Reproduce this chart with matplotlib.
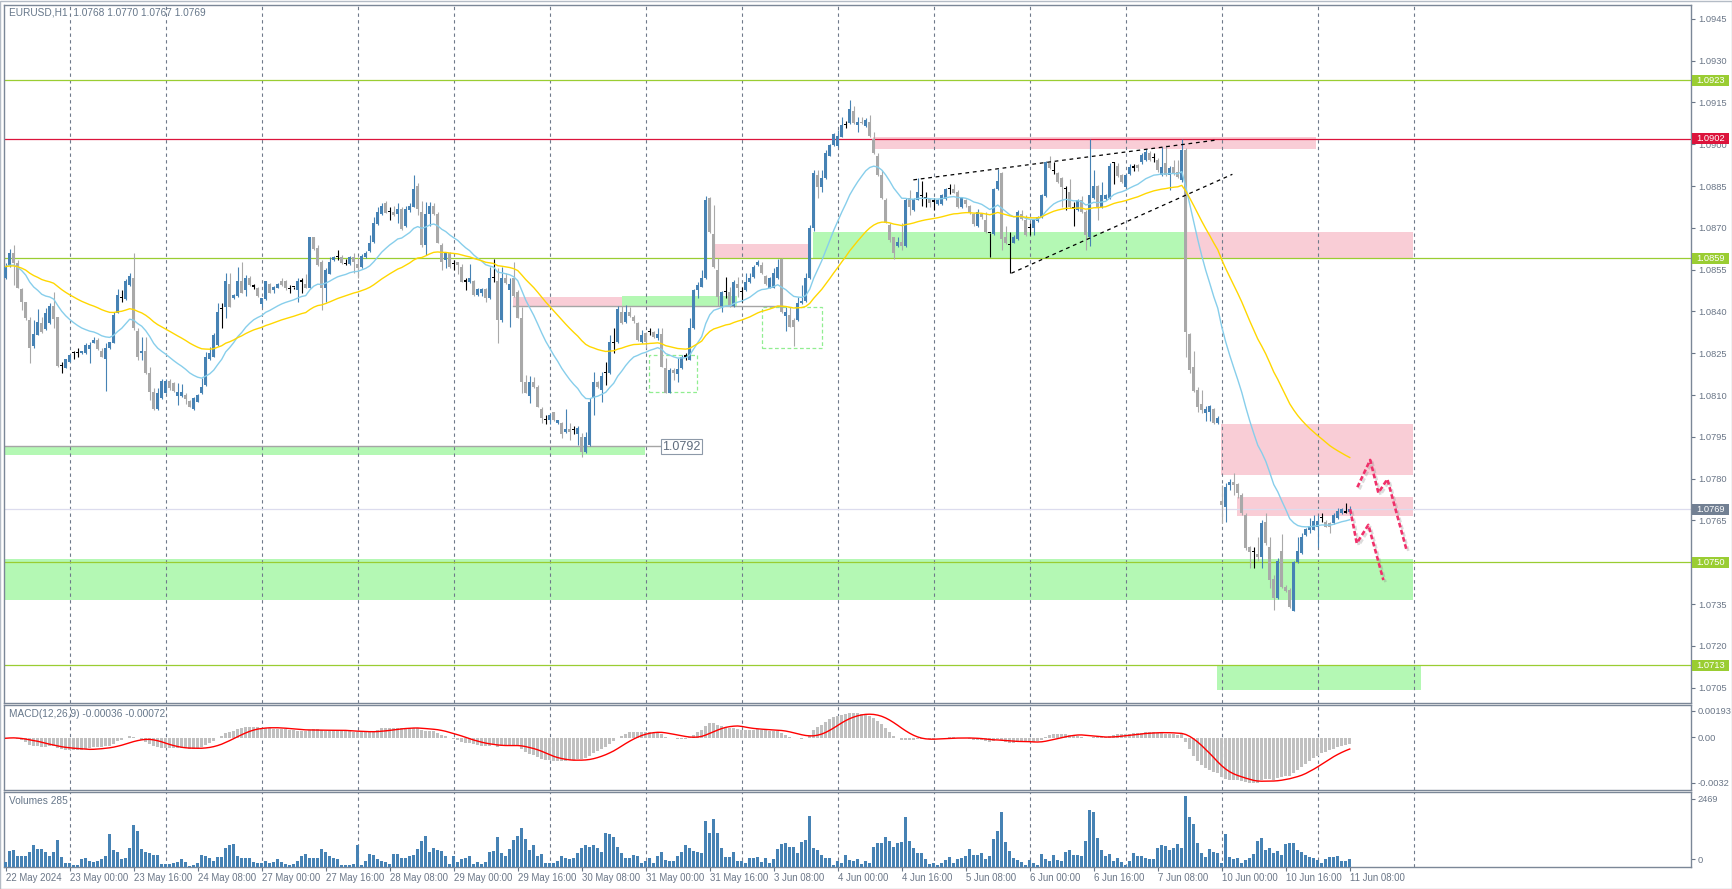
import numpy as np
import pandas as pd
import matplotlib
matplotlib.use('Agg')
import matplotlib.pyplot as plt
import matplotlib.patheffects as pe
from matplotlib.patches import Rectangle
from matplotlib.transforms import blended_transform_factory

plt.rcParams['font.family'] = ['Liberation Sans', 'DejaVu Sans']

# ---------------- data (EURUSD H1) ----------------
# (open, high, low, close) per hourly bar, first bar = 22 May 2024 08:00
candles = [
    (1.08519, 1.08573, 1.08515, 1.08561),  # 0
    (1.08567, 1.08623, 1.08561, 1.08608),
    (1.08608, 1.08638, 1.08495, 1.08573),
    (1.08573, 1.08585, 1.08483, 1.08483),
    (1.08479, 1.08483, 1.08405, 1.08435),
    (1.08435, 1.08435, 1.08369, 1.08378),
    (1.08369, 1.08381, 1.08216, 1.08268),
    (1.08276, 1.08369, 1.08268, 1.08318),
    (1.08315, 1.08407, 1.08315, 1.08363),
    (1.08357, 1.08381, 1.08321, 1.08327),
    (1.08336, 1.08411, 1.08333, 1.08393),  # 10
    (1.08357, 1.08429, 1.08355, 1.08420),
    (1.08420, 1.08471, 1.08339, 1.08372),
    (1.08381, 1.08381, 1.08202, 1.08205),
    (1.08205, 1.08220, 1.08178, 1.08205),
    (1.08198, 1.08228, 1.08196, 1.08228),
    (1.08220, 1.08244, 1.08220, 1.08244),
    (1.08250, 1.08259, 1.08228, 1.08250),
    (1.08252, 1.08268, 1.08238, 1.08252),
    (1.08250, 1.08258, 1.08248, 1.08258),
    (1.08250, 1.08285, 1.08248, 1.08278),  # 20
    (1.08266, 1.08291, 1.08216, 1.08278),
    (1.08288, 1.08307, 1.08285, 1.08297),
    (1.08297, 1.08303, 1.08262, 1.08266),
    (1.08258, 1.08268, 1.08236, 1.08238),
    (1.08228, 1.08285, 1.08116, 1.08270),
    (1.08268, 1.08290, 1.08264, 1.08290),
    (1.08288, 1.08399, 1.08285, 1.08387),
    (1.08396, 1.08480, 1.08393, 1.08459),
    (1.08447, 1.08477, 1.08435, 1.08447),
    (1.08445, 1.08515, 1.08441, 1.08509),  # 30
    (1.08495, 1.08539, 1.08491, 1.08527),
    (1.08519, 1.08611, 1.08333, 1.08339),
    (1.08330, 1.08339, 1.08226, 1.08238),
    (1.08250, 1.08307, 1.08226, 1.08258),
    (1.08258, 1.08309, 1.08175, 1.08178),
    (1.08178, 1.08202, 1.08082, 1.08112),
    (1.08112, 1.08124, 1.08046, 1.08049),
    (1.08049, 1.08124, 1.08046, 1.08106),
    (1.08088, 1.08156, 1.08086, 1.08149),
    (1.08108, 1.08156, 1.08106, 1.08149),  # 40
    (1.08149, 1.08156, 1.08118, 1.08124),
    (1.08142, 1.08148, 1.08112, 1.08114),
    (1.08098, 1.08142, 1.08064, 1.08112),
    (1.08097, 1.08138, 1.08094, 1.08112),
    (1.08100, 1.08106, 1.08068, 1.08086),
    (1.08079, 1.08082, 1.08056, 1.08058),
    (1.08049, 1.08094, 1.08046, 1.08088),
    (1.08076, 1.08104, 1.08074, 1.08100),
    (1.08106, 1.08162, 1.08104, 1.08130),
    (1.08136, 1.08256, 1.08134, 1.08238),  # 50
    (1.08228, 1.08274, 1.08226, 1.08252),
    (1.08238, 1.08321, 1.08236, 1.08315),
    (1.08279, 1.08429, 1.08276, 1.08399),
    (1.08407, 1.08429, 1.08339, 1.08407),
    (1.08417, 1.08537, 1.08378, 1.08509),
    (1.08497, 1.08537, 1.08415, 1.08417),
    (1.08447, 1.08462, 1.08444, 1.08459),
    (1.08456, 1.08560, 1.08453, 1.08509),
    (1.08509, 1.08576, 1.08465, 1.08467),
    (1.08477, 1.08531, 1.08456, 1.08521),  # 60
    (1.08521, 1.08527, 1.08491, 1.08495),
    (1.08489, 1.08498, 1.08479, 1.08489),
    (1.08483, 1.08489, 1.08453, 1.08456),
    (1.08426, 1.08449, 1.08417, 1.08449),
    (1.08444, 1.08509, 1.08441, 1.08509),
    (1.08498, 1.08501, 1.08465, 1.08467),
    (1.08477, 1.08491, 1.08467, 1.08488),
    (1.08485, 1.08503, 1.08483, 1.08498),
    (1.08509, 1.08521, 1.08492, 1.08495),
    (1.08509, 1.08513, 1.08477, 1.08485),  # 70
    (1.08479, 1.08495, 1.08467, 1.08479),
    (1.08486, 1.08489, 1.08479, 1.08486),
    (1.08477, 1.08521, 1.08435, 1.08509),
    (1.08507, 1.08519, 1.08467, 1.08507),
    (1.08498, 1.08536, 1.08483, 1.08485),
    (1.08485, 1.08666, 1.08483, 1.08666),
    (1.08666, 1.08666, 1.08620, 1.08624),
    (1.08629, 1.08638, 1.08563, 1.08566),
    (1.08578, 1.08584, 1.08405, 1.08485),
    (1.08485, 1.08554, 1.08435, 1.08548),  # 80
    (1.08536, 1.08596, 1.08534, 1.08576),
    (1.08584, 1.08600, 1.08582, 1.08596),
    (1.08594, 1.08620, 1.08584, 1.08594),
    (1.08594, 1.08602, 1.08569, 1.08572),
    (1.08570, 1.08587, 1.08566, 1.08570),
    (1.08569, 1.08599, 1.08566, 1.08596),
    (1.08596, 1.08608, 1.08539, 1.08576),
    (1.08569, 1.08596, 1.08519, 1.08557),
    (1.08558, 1.08606, 1.08554, 1.08599),
    (1.08594, 1.08617, 1.08590, 1.08608),  # 90
    (1.08618, 1.08674, 1.08614, 1.08647),
    (1.08650, 1.08740, 1.08647, 1.08716),
    (1.08713, 1.08773, 1.08710, 1.08758),
    (1.08748, 1.08790, 1.08746, 1.08778),
    (1.08788, 1.08797, 1.08752, 1.08754),
    (1.08758, 1.08776, 1.08728, 1.08758),
    (1.08758, 1.08778, 1.08742, 1.08746),
    (1.08748, 1.08788, 1.08716, 1.08766),
    (1.08766, 1.08776, 1.08692, 1.08696),
    (1.08708, 1.08778, 1.08704, 1.08766),  # 100
    (1.08764, 1.08788, 1.08755, 1.08778),
    (1.08776, 1.08889, 1.08773, 1.08838),
    (1.08851, 1.08859, 1.08746, 1.08766),
    (1.08755, 1.08797, 1.08632, 1.08638),
    (1.08638, 1.08794, 1.08602, 1.08749),
    (1.08749, 1.08794, 1.08706, 1.08778),
    (1.08778, 1.08788, 1.08746, 1.08748),
    (1.08748, 1.08758, 1.08644, 1.08647),
    (1.08638, 1.08644, 1.08548, 1.08576),
    (1.08584, 1.08608, 1.08554, 1.08608),  # 110
    (1.08608, 1.08614, 1.08554, 1.08558),
    (1.08569, 1.08584, 1.08548, 1.08569),
    (1.08576, 1.08579, 1.08536, 1.08566),
    (1.08561, 1.08569, 1.08504, 1.08507),
    (1.08507, 1.08519, 1.08477, 1.08507),
    (1.08507, 1.08569, 1.08501, 1.08519),
    (1.08509, 1.08513, 1.08455, 1.08459),
    (1.08459, 1.08483, 1.08455, 1.08479),
    (1.08465, 1.08483, 1.08455, 1.08479),
    (1.08479, 1.08483, 1.08435, 1.08447),  # 120
    (1.08447, 1.08561, 1.08444, 1.08519),
    (1.08519, 1.08587, 1.08507, 1.08519),
    (1.08509, 1.08557, 1.08288, 1.08369),
    (1.08369, 1.08561, 1.08363, 1.08519),
    (1.08519, 1.08537, 1.08498, 1.08501),
    (1.08477, 1.08519, 1.08345, 1.08498),
    (1.08519, 1.08579, 1.08452, 1.08455),
    (1.08471, 1.08477, 1.08375, 1.08378),
    (1.08378, 1.08417, 1.08106, 1.08148),
    (1.08148, 1.08172, 1.08106, 1.08108),  # 130
    (1.08098, 1.08168, 1.08070, 1.08148),
    (1.08148, 1.08166, 1.08124, 1.08130),
    (1.08130, 1.08136, 1.08056, 1.08058),
    (1.08049, 1.08056, 1.07998, 1.08016),
    (1.08010, 1.08028, 1.07996, 1.08010),
    (1.08010, 1.08034, 1.07996, 1.08028),
    (1.08038, 1.08040, 1.08006, 1.08010),
    (1.07998, 1.08012, 1.07996, 1.08010),
    (1.07998, 1.08004, 1.07945, 1.07959),
    (1.07969, 1.08049, 1.07963, 1.07977),  # 140
    (1.07977, 1.07998, 1.07939, 1.07969),
    (1.07975, 1.07989, 1.07959, 1.07975),
    (1.07959, 1.07987, 1.07921, 1.07983),
    (1.07948, 1.07963, 1.07876, 1.07897),
    (1.07897, 1.07969, 1.07893, 1.07951),
    (1.07921, 1.08088, 1.07918, 1.08076),
    (1.08088, 1.08184, 1.08028, 1.08148),
    (1.08148, 1.08150, 1.08124, 1.08128),
    (1.08118, 1.08184, 1.08076, 1.08168),
    (1.08178, 1.08220, 1.08136, 1.08178),  # 150
    (1.08178, 1.08315, 1.08175, 1.08291),
    (1.08288, 1.08339, 1.08250, 1.08288),
    (1.08291, 1.08419, 1.08288, 1.08407),
    (1.08398, 1.08419, 1.08355, 1.08357),
    (1.08363, 1.08423, 1.08360, 1.08399),
    (1.08399, 1.08417, 1.08381, 1.08384),
    (1.08381, 1.08387, 1.08357, 1.08366),
    (1.08357, 1.08363, 1.08295, 1.08297),
    (1.08291, 1.08333, 1.08288, 1.08315),
    (1.08321, 1.08327, 1.08268, 1.08291),  # 160
    (1.08327, 1.08339, 1.08315, 1.08327),
    (1.08327, 1.08329, 1.08304, 1.08307),
    (1.08306, 1.08339, 1.08297, 1.08319),
    (1.08319, 1.08339, 1.08200, 1.08202),
    (1.08196, 1.08232, 1.08106, 1.08108),
    (1.08108, 1.08196, 1.08106, 1.08190),
    (1.08190, 1.08196, 1.08154, 1.08178),
    (1.08175, 1.08232, 1.08148, 1.08192),
    (1.08196, 1.08244, 1.08192, 1.08238),
    (1.08238, 1.08250, 1.08226, 1.08238),  # 170
    (1.08226, 1.08375, 1.08224, 1.08339),
    (1.08339, 1.08479, 1.08336, 1.08477),
    (1.08477, 1.08507, 1.08447, 1.08495),
    (1.08489, 1.08549, 1.08487, 1.08519),
    (1.08519, 1.08814, 1.08516, 1.08800),
    (1.08806, 1.08812, 1.08683, 1.08686),
    (1.08678, 1.08782, 1.08555, 1.08558),
    (1.08549, 1.08590, 1.08419, 1.08453),
    (1.08419, 1.08473, 1.08399, 1.08471),
    (1.08468, 1.08525, 1.08447, 1.08468),  # 180
    (1.08471, 1.08489, 1.08417, 1.08419),
    (1.08419, 1.08513, 1.08417, 1.08507),
    (1.08497, 1.08525, 1.08453, 1.08485),
    (1.08471, 1.08489, 1.08435, 1.08471),
    (1.08477, 1.08537, 1.08474, 1.08507),
    (1.08507, 1.08539, 1.08501, 1.08519),
    (1.08522, 1.08567, 1.08519, 1.08561),
    (1.08567, 1.08585, 1.08564, 1.08576),
    (1.08567, 1.08576, 1.08535, 1.08537),
    (1.08527, 1.08531, 1.08495, 1.08497),  # 190
    (1.08485, 1.08522, 1.08483, 1.08519),
    (1.08485, 1.08554, 1.08483, 1.08537),
    (1.08519, 1.08587, 1.08516, 1.08561),
    (1.08587, 1.08590, 1.08394, 1.08397),
    (1.08384, 1.08417, 1.08331, 1.08399),
    (1.08387, 1.08417, 1.08343, 1.08345),
    (1.08369, 1.08375, 1.08276, 1.08345),
    (1.08369, 1.08453, 1.08366, 1.08429),
    (1.08429, 1.08495, 1.08425, 1.08439),
    (1.08439, 1.08539, 1.08435, 1.08519),  # 200
    (1.08519, 1.08710, 1.08515, 1.08698),
    (1.08698, 1.08907, 1.08690, 1.08895),
    (1.08889, 1.08907, 1.08806, 1.08848),
    (1.08848, 1.08907, 1.08830, 1.08877),
    (1.08878, 1.08979, 1.08874, 1.08967),
    (1.08958, 1.09000, 1.08956, 1.08997),
    (1.08997, 1.09041, 1.08993, 1.09037),
    (1.08993, 1.09051, 1.08991, 1.09029),
    (1.09027, 1.09099, 1.09025, 1.09069),
    (1.09069, 1.09084, 1.09057, 1.09069),  # 210
    (1.09075, 1.09159, 1.09071, 1.09125),
    (1.09120, 1.09137, 1.09071, 1.09075),
    (1.09069, 1.09099, 1.09045, 1.09081),
    (1.09081, 1.09099, 1.09071, 1.09075),
    (1.09066, 1.09093, 1.09063, 1.09087),
    (1.09081, 1.09105, 1.09027, 1.09029),
    (1.09017, 1.09045, 1.08965, 1.08967),
    (1.08958, 1.08967, 1.08886, 1.08889),
    (1.08889, 1.08907, 1.08803, 1.08806),
    (1.08800, 1.08806, 1.08716, 1.08718),  # 220
    (1.08710, 1.08716, 1.08650, 1.08656),
    (1.08666, 1.08668, 1.08587, 1.08608),
    (1.08635, 1.08668, 1.08632, 1.08650),
    (1.08650, 1.08716, 1.08621, 1.08635),
    (1.08635, 1.08806, 1.08632, 1.08800),
    (1.08806, 1.08836, 1.08746, 1.08774),
    (1.08764, 1.08806, 1.08761, 1.08804),
    (1.08800, 1.08878, 1.08798, 1.08830),
    (1.08814, 1.08868, 1.08779, 1.08814),
    (1.08806, 1.08830, 1.08774, 1.08806),  # 230
    (1.08804, 1.08806, 1.08774, 1.08788),
    (1.08794, 1.08806, 1.08764, 1.08794),
    (1.08786, 1.08803, 1.08783, 1.08800),
    (1.08786, 1.08821, 1.08783, 1.08818),
    (1.08804, 1.08842, 1.08800, 1.08838),
    (1.08838, 1.08857, 1.08821, 1.08838),
    (1.08838, 1.08856, 1.08824, 1.08826),
    (1.08830, 1.08834, 1.08770, 1.08774),
    (1.08774, 1.08810, 1.08770, 1.08806),
    (1.08800, 1.08804, 1.08774, 1.08786),  # 240
    (1.08780, 1.08783, 1.08749, 1.08752),
    (1.08750, 1.08752, 1.08707, 1.08714),
    (1.08707, 1.08766, 1.08704, 1.08755),
    (1.08750, 1.08752, 1.08733, 1.08737),
    (1.08728, 1.08758, 1.08683, 1.08686),
    (1.08680, 1.08683, 1.08597, 1.08680),
    (1.08677, 1.08842, 1.08674, 1.08838),
    (1.08838, 1.08910, 1.08836, 1.08868),
    (1.08896, 1.08901, 1.08621, 1.08659),
    (1.08666, 1.08707, 1.08642, 1.08647),  # 250
    (1.08639, 1.08686, 1.08537, 1.08639),
    (1.08647, 1.08674, 1.08644, 1.08668),
    (1.08659, 1.08764, 1.08656, 1.08756),
    (1.08749, 1.08764, 1.08728, 1.08732),
    (1.08728, 1.08746, 1.08672, 1.08674),
    (1.08698, 1.08716, 1.08674, 1.08698),
    (1.08698, 1.08731, 1.08674, 1.08728),
    (1.08726, 1.08742, 1.08722, 1.08740),
    (1.08737, 1.08821, 1.08735, 1.08818),
    (1.08814, 1.08941, 1.08812, 1.08937),  # 260
    (1.08932, 1.08958, 1.08910, 1.08914),
    (1.08905, 1.08937, 1.08893, 1.08905),
    (1.08896, 1.08901, 1.08862, 1.08866),
    (1.08878, 1.08882, 1.08774, 1.08848),
    (1.08838, 1.08850, 1.08764, 1.08838),
    (1.08830, 1.08874, 1.08770, 1.08774),
    (1.08770, 1.08794, 1.08707, 1.08770),
    (1.08764, 1.08803, 1.08761, 1.08800),
    (1.08800, 1.08814, 1.08754, 1.08758),
    (1.08758, 1.08764, 1.08621, 1.08674),  # 270
    (1.08668, 1.09018, 1.08635, 1.08818),
    (1.08806, 1.08908, 1.08803, 1.08850),
    (1.08850, 1.08854, 1.08728, 1.08776),
    (1.08774, 1.08866, 1.08770, 1.08818),
    (1.08804, 1.08821, 1.08800, 1.08818),
    (1.08806, 1.08932, 1.08803, 1.08920),
    (1.08932, 1.08937, 1.08856, 1.08932),
    (1.08920, 1.08932, 1.08884, 1.08886),
    (1.08890, 1.08893, 1.08862, 1.08866),
    (1.08848, 1.08893, 1.08845, 1.08890),  # 280
    (1.08893, 1.08929, 1.08890, 1.08917),
    (1.08916, 1.08929, 1.08905, 1.08916),
    (1.08925, 1.08930, 1.08905, 1.08915),
    (1.08935, 1.08970, 1.08930, 1.08961),
    (1.08943, 1.08981, 1.08940, 1.08973),
    (1.08969, 1.08975, 1.08938, 1.08943),
    (1.08949, 1.08967, 1.08937, 1.08949),
    (1.08943, 1.08950, 1.08900, 1.08907),
    (1.08889, 1.08991, 1.08885, 1.08919),
    (1.08931, 1.08997, 1.08885, 1.08889),  # 290
    (1.08889, 1.08920, 1.08835, 1.08913),
    (1.08919, 1.08943, 1.08890, 1.08895),
    (1.08901, 1.08943, 1.08878, 1.08883),
    (1.08871, 1.09017, 1.08865, 1.08979),
    (1.08979, 1.08985, 1.08238, 1.08327),
    (1.08319, 1.08321, 1.08178, 1.08188),
    (1.08202, 1.08259, 1.08112, 1.08116),
    (1.08118, 1.08128, 1.08040, 1.08058),
    (1.08068, 1.08118, 1.08037, 1.08046),
    (1.08034, 1.08061, 1.08007, 1.08050),  # 300
    (1.08038, 1.08065, 1.08008, 1.08061),
    (1.08050, 1.08053, 1.07997, 1.07999),
    (1.07999, 1.08023, 1.07996, 1.08019),
    (1.07718, 1.07777, 1.07640, 1.07706),
    (1.07697, 1.07785, 1.07646, 1.07771),
    (1.07777, 1.07798, 1.07760, 1.07789),
    (1.07789, 1.07819, 1.07741, 1.07777),
    (1.07781, 1.07784, 1.07729, 1.07748),
    (1.07741, 1.07747, 1.07670, 1.07676),
    (1.07670, 1.07676, 1.07544, 1.07550),  # 310
    (1.07556, 1.07558, 1.07478, 1.07538),
    (1.07538, 1.07556, 1.07478, 1.07538),
    (1.07529, 1.07589, 1.07504, 1.07518),
    (1.07518, 1.07652, 1.07478, 1.07640),
    (1.07646, 1.07678, 1.07562, 1.07568),
    (1.07556, 1.07590, 1.07406, 1.07436),
    (1.07439, 1.07455, 1.07329, 1.07371),
    (1.07371, 1.07514, 1.07368, 1.07506),
    (1.07541, 1.07601, 1.07406, 1.07410),
    (1.07410, 1.07418, 1.07394, 1.07398),  # 320
    (1.07401, 1.07407, 1.07334, 1.07338),
    (1.07326, 1.07504, 1.07326, 1.07500),
    (1.07499, 1.07590, 1.07496, 1.07542),
    (1.07532, 1.07604, 1.07529, 1.07592),
    (1.07598, 1.07622, 1.07594, 1.07618),
    (1.07616, 1.07658, 1.07604, 1.07630),
    (1.07616, 1.07670, 1.07614, 1.07649),
    (1.07628, 1.07670, 1.07556, 1.07649),
    (1.07658, 1.07678, 1.07646, 1.07658),
    (1.07646, 1.07650, 1.07626, 1.07628),  # 330
    (1.07642, 1.07646, 1.07604, 1.07628),
    (1.07640, 1.07676, 1.07637, 1.07670),
    (1.07658, 1.07694, 1.07656, 1.07682),
    (1.07676, 1.07694, 1.07673, 1.07690),
    (1.07678, 1.07711, 1.07676, 1.07678),
    (1.07680, 1.07700, 1.07670, 1.07690),  # 336
]

volumes = [
    180, 565, 601, 397, 397, 397, 541, 757, 613, 613,
    541, 397, 541, 938, 361, 132, 132, 84, 84, 264,
    300, 216, 180, 216, 276, 397, 1154, 589, 541, 276,
    325, 649, 1478, 1262, 613, 541, 481, 421, 421, 108,
    108, 96, 156, 180, 276, 180, 36, 60, 132, 421,
    397, 325, 216, 361, 361, 661, 757, 817, 397, 300,
    300, 325, 180, 156, 156, 216, 156, 180, 276, 180,
    108, 84, 108, 216, 397, 469, 300, 300, 300, 613,
    541, 397, 325, 276, 84, 84, 84, 108, 757, 84,
    216, 445, 421, 276, 216, 180, 108, 469, 469, 300,
    325, 397, 421, 613, 902, 1082, 541, 661, 577, 565,
    397, 108, 397, 180, 276, 325, 397, 108, 180, 108,
    180, 541, 565, 1046, 493, 397, 613, 926, 1082, 1358,
    962, 589, 757, 373, 469, 132, 132, 132, 216, 397,
    325, 276, 325, 481, 661, 781, 709, 757, 661, 541,
    1202, 1166, 1046, 685, 493, 325, 300, 421, 397, 132,
    204, 325, 132, 397, 541, 252, 216, 216, 397, 541,
    757, 661, 565, 541, 481, 1599, 1178, 1659, 1178, 661,
    361, 361, 517, 204, 204, 156, 300, 325, 361, 180,
    325, 156, 276, 625, 817, 841, 685, 685, 481, 865,
    938, 1779, 661, 577, 421, 325, 300, 60, 204, 156,
    421, 240, 204, 276, 120, 204, 156, 685, 841, 841,
    1058, 902, 685, 841, 877, 1743, 902, 661, 505, 505,
    276, 120, 156, 84, 156, 240, 361, 156, 276, 325,
    397, 625, 421, 421, 481, 276, 397, 962, 1262, 1923,
    877, 565, 325, 240, 180, 84, 240, 156, 84, 445,
    276, 204, 421, 240, 204, 541, 577, 421, 421, 397,
    902, 1983, 1923, 1022, 601, 397, 445, 204, 325, 180,
    84, 204, 481, 397, 397, 325, 276, 276, 661, 757,
    721, 601, 661, 817, 661, 2469, 1743, 1502, 841, 505,
    361, 625, 541, 481, 156, 1166, 361, 276, 325, 132,
    240, 325, 457, 902, 1022, 601, 661, 481, 565, 421,
    817, 841, 841, 601, 541, 421, 361, 325, 240, 156,
    276, 361, 361, 397, 216, 204, 285,
]

time_labels = ['22 May 2024', '23 May 00:00', '23 May 16:00', '24 May 08:00',
               '27 May 00:00', '27 May 16:00', '28 May 08:00', '29 May 00:00',
               '29 May 16:00', '30 May 08:00', '31 May 00:00', '31 May 16:00',
               '3 Jun 08:00', '4 Jun 00:00', '4 Jun 16:00', '5 Jun 08:00',
               '6 Jun 00:00', '6 Jun 16:00', '7 Jun 08:00', '10 Jun 00:00',
               '10 Jun 16:00', '11 Jun 08:00']

green_levels = [1.0923, 1.0859, 1.0750, 1.0713]
red_levels = [1.0902]
bid_price = 1.0769

# zones: (bar from, bar to, price low, price high)
pink_zones = [(216.9, 327.6, 1.08982, 1.09027), (294.8, 351.8, 1.08591, 1.08685),
              (177.3, 200.65, 1.08591, 1.08642), (126.9, 154.0, 1.08419, 1.08451),
              (303.9, 351.9, 1.07813, 1.07996), (307.8, 351.9, 1.07666, 1.07734)]
green_zones = [(-2, 159.8, 1.07885, 1.07918), (154.0, 182.75, 1.08419, 1.08455),
               (201.75, 294.8, 1.08591, 1.08684), (-2, 351.9, 1.07364, 1.07512),
               (302.8, 353.8, 1.07041, 1.07129)]
dashed_boxes = [(160.9, 172.8, 1.08112, 1.08244), (189.0, 204.0, 1.08268, 1.08415)]
gray_lines = [(-2, 163.6, 1.07918), (126.9, 194.2, 1.08419)]
wedge_upper = ([226.9, 302.75], [1.08872, 1.09015])
wedge_lower = ([251.4, 306.65], [1.08537, 1.08892])
zigzag_a = ([337.9, 341.1, 343.15, 345.4, 350.25], [1.07769, 1.07867, 1.07749, 1.07798, 1.07541])
zigzag_b = ([336.1, 337.75, 340.65, 344.4], [1.07690, 1.07568, 1.07634, 1.07436])

header = 'EURUSD,H1  1.0768 1.0770 1.0767 1.0769'
macd_header = 'MACD(12,26,9) -0.00036 -0.00072'
vol_header = 'Volumes 285'

# ---------------- look ----------------
BULL = '#4682b4'
BEAR = '#a9a9a9'
TXT = '#6a7687'
HDR = '#66778a'
FRAME = '#7b8797'
GRID = '#6f7a8b'
PINK = '#f9cdd6'
GREEN = '#b4f8b4'

W, H = 1733, 889
fig = plt.figure(figsize=(W / 100, H / 100), dpi=100)
fig.patch.set_facecolor('white')


def panel(top, bottom):
    return fig.add_axes([4 / W, 1 - bottom / H, (1691 - 4) / W, (bottom - top) / H])


ax = panel(4.5, 702.5)
axm = panel(704.5, 790)
axv = panel(792, 867)

for a in (ax, axm, axv):
    a.set_xlim(-0.425, 421.3)
    for s in a.spines.values():
        s.set_color(FRAME)
        s.set_linewidth(1)
    a.yaxis.tick_right()
    a.tick_params(axis='y', colors=TXT, labelsize=6.7, length=3, width=0.8, pad=2)
    a.tick_params(axis='x', bottom=False, labelbottom=False)
    for g in range(16, 353, 24):
        a.axvline(g, color=GRID, lw=0.8, ls=(0, (3, 3)), zorder=1.2)

# ---------------- main price panel ----------------
o, hi, lo, c = (np.array(v) for v in zip(*candles))
idx = np.arange(len(candles))
ax.set_ylim(1.069966, 1.095013)
pticks = np.round(np.arange(1.0705, 1.09451, 0.0015), 4)
ax.set_yticks(pticks)
ax.set_yticklabels(['%.4f' % p for p in pticks])

for x0, x1, y0, y1 in pink_zones:
    ax.add_patch(Rectangle((x0, y0), x1 - x0, y1 - y0, fc=PINK, ec='none', zorder=1))
for x0, x1, y0, y1 in green_zones:
    ax.add_patch(Rectangle((x0, y0), x1 - x0, y1 - y0, fc=GREEN, ec='none', zorder=1))
for x0, x1, y0, y1 in dashed_boxes:
    ax.add_patch(Rectangle((x0, y0), x1 - x0, y1 - y0, fill=False, ec='#90ee90',
                           lw=0.9, ls=(0, (3, 2)), zorder=1.3))
for x0, x1, y in gray_lines:
    ax.plot([x0, x1], [y, y], color='#a5a5a5', lw=1, zorder=1.4)

for y in green_levels:
    ax.axhline(y, color='#9acd32', lw=0.9, zorder=1.5)
for y in red_levels:
    ax.axhline(y, color='#dc143c', lw=0.9, zorder=1.5)
ax.axhline(bid_price, color='#dcdcee', lw=0.9, zorder=1.5)

up = c > o
dn = c < o
dj = c == o
for mask, col in ((up, BULL), (dn, BEAR), (dj, 'black')):
    ax.vlines(idx[mask], lo[mask], hi[mask], color=col, lw=0.8, zorder=3)
    bottom = np.minimum(o, c)[mask]
    height = np.maximum(np.abs(c - o)[mask], 0.00004)
    ax.bar(idx[mask], height, width=0.75, bottom=bottom, color=col, lw=0, zorder=3)

close = pd.Series(c)
ema_fast = close.ewm(span=20, adjust=False).mean()
ema_slow = close.ewm(span=50, adjust=False).mean()
ax.plot(idx, ema_fast, color='#87ceeb', lw=1, zorder=4)
ax.plot(idx, ema_slow, color='#ffd700', lw=1, zorder=4)

ax.plot(*wedge_upper, color='black', lw=0.9, ls=(0, (3, 3)), zorder=5)
ax.plot(*wedge_lower, color='black', lw=0.9, ls=(0, (3, 3)), zorder=5)

shadow = [pe.SimpleLineShadow(offset=(1.5, -1.5), shadow_color='#888888', alpha=0.3), pe.Normal()]
for zx, zy in (zigzag_a, zigzag_b):
    ax.plot(zx, zy, color='#f0306a', lw=1.9, ls=(0, (1.8, 1.0)), zorder=6, path_effects=shadow)

ax.text(164.1, 1.07915, '1.0792', ha='left', va='center', fontsize=9, color='#5f6c7d',
        zorder=7, bbox=dict(boxstyle='square,pad=0.12', fc='white', ec='#8d99a8', lw=0.8))

# coloured price tags on the scale
blend = blended_transform_factory(fig.transFigure, ax.transData)
half = 5.6 / 27867
tags = [(p, '#9acd32') for p in green_levels] + [(p, '#dc143c') for p in red_levels] + [(bid_price, '#728093')]
for p, col in tags:
    ax.add_patch(Rectangle((1692.5 / W, p - half), 36.5 / W, 2 * half, transform=blend,
                           fc=col, ec='none', clip_on=False, zorder=20))
    ax.text(1710.8 / W, p, '%.4f' % p, transform=blend, ha='center', va='center',
            fontsize=6.7, color='white', zorder=21, clip_on=False)

# ---------------- MACD panel ----------------
ema12 = close.ewm(span=12, adjust=False).mean()
ema26 = close.ewm(span=26, adjust=False).mean()
macd = ema12 - ema26
signal = macd.rolling(9, min_periods=1).mean()
axm.bar(idx, macd, width=0.75, color='#c0c0c0', lw=0, zorder=3)
axm.plot(idx, signal, color='red', lw=1, zorder=4)
axm.set_ylim(-0.00345, 0.00225)
axm.set_yticks([0.00184, 0.00006, -0.00297])
axm.set_yticklabels(['0.00193', '0.00', '-0.0032'])

# ---------------- volume panel ----------------
vidx = np.arange(len(volumes))
axv.bar(vidx, volumes, width=0.75, color=BULL, lw=0, zorder=3)
axv.set_ylim(0, 2619)
axv.set_yticks([2388, 269])
axv.set_yticklabels(['2469', '0'])
axv.set_xticks(np.arange(len(time_labels)) * 16)
axv.set_xticklabels(time_labels)
axv.tick_params(axis='x', bottom=True, labelbottom=True, length=3, width=0.8,
                colors=TXT, labelsize=6.9, pad=1.5)
for lab in axv.get_xticklabels():
    lab.set_ha('left')

# ---------------- texts & frame ----------------
fig.text(9.2 / W, 1 - 12.7 / H, header, ha='left', va='center', fontsize=7.3, color=HDR)
fig.text(9 / W, 1 - 714.3 / H, macd_header, ha='left', va='center', fontsize=7.3, color=HDR)
fig.text(9 / W, 1 - 801.3 / H, vol_header, ha='left', va='center', fontsize=7.3, color=HDR)
fig.patches.append(Rectangle((0.5 / W, 0.5 / H), (W - 1) / W, (H - 1) / H, transform=fig.transFigure,
                             fill=False, ec='#b4bcc6', lw=1))

fig.savefig('out.png', dpi=100)
